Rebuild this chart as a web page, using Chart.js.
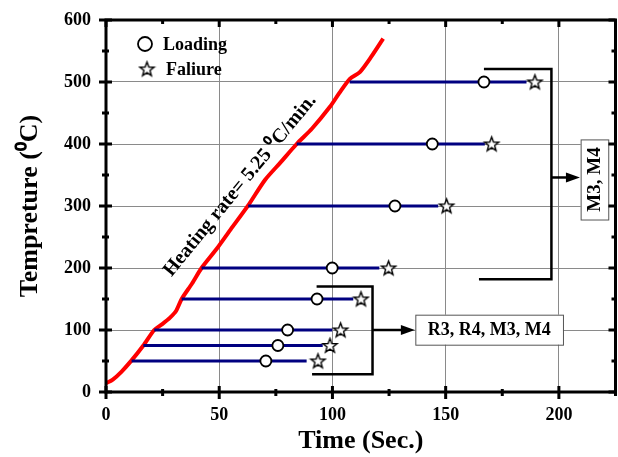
<!DOCTYPE html>
<html>
<head>
<meta charset="utf-8">
<script src="https://cdn.jsdelivr.net/npm/chart.js@4.4.1/dist/chart.umd.min.js"></script>
<style>
	html, body { margin: 0; padding: 0; background: #fff; }
</style>
</head>
<body>
<canvas id="chart" width="618" height="457"></canvas>
<script>
	// heating curve (time in sec, temperature in C)
	var heatTime = [0, 3, 6.9, 11.3, 16.5, 21.3, 25, 28.3, 31, 33.4, 38, 42.2, 48.9, 55, 62.8, 70.2, 77, 84.2, 91, 98.9, 103, 107.7, 112.1, 117, 122.4];
	var heatTemp = [14, 20, 33, 51, 75, 100, 110, 120, 131, 150, 175, 200, 231, 262, 301, 342, 370, 400, 425, 460, 482, 505, 516, 540, 570];

	// constant temperature levels
	var levels = [50, 75, 100, 150, 200, 300, 400, 500];
	var lineStart = [11.3, 16.5, 21.3, 33.4, 42.2, 62.8, 84.2, 107.6];
	var lineEnd = [88.6, 95.7, 99.9, 109.2, 120.7, 146.7, 167.3, 185.7];
	var loadingTime = [70.6, 75.9, 80.2, 93.2, 99.9, 127.6, 144.1, 166.9];
	var failureTime = [93.6, 98.9, 103.6, 112.6, 124.8, 150.4, 170.3, 189.4];

	// brackets / labels (data units)
	var lowBracket = [[93, 170], [117.7, 170], [117.7, 28.5], [91, 28.5]];
	var lowArrow = [[117.7, 100], [136.4, 100]];
	var lowBox = [136.6, 201.8, 124.7, 76.3];
	var lowLabel = "R3, R4, M3, M4";
	var highBracket = [[166.9, 521], [196.7, 521], [196.7, 181.7], [164.7, 181.7]];
	var highArrow = [[196.7, 346], [209.3, 346]];
	var highBox = [209.6, 221.8, 407.4, 278.2];
	var highLabel = "M3, M4";
	var rateText = "Heating rate= 5.25 \u2070C/min.";
	var ratePos = [59.2, 333];

	var SERIF = "'Liberation Serif', 'Times New Roman', serif";

	// hollow star marker
	function makeStar(r) {
		var size = Math.ceil(r * 2 + 4);
		var c = document.createElement("canvas");
		c.width = size; c.height = size;
		var g = c.getContext("2d");
		g.translate(size / 2, size / 2 + 0.5);
		g.beginPath();
		for (var i = 0; i < 10; i++) {
			var rr = (i % 2 == 0) ? r : r * 0.42;
			var a = -Math.PI / 2 + i * Math.PI / 5;
			if (i == 0) g.moveTo(rr * Math.cos(a), rr * Math.sin(a));
			else g.lineTo(rr * Math.cos(a), rr * Math.sin(a));
		} // end for
		g.closePath();
		g.fillStyle = "#fff";
		g.fill();
		g.lineWidth = 1.4;
		g.strokeStyle = "#000";
		g.stroke();
		return c;
	} // makeStar
	var starImg = makeStar(7.5);

	function toPts(xs, ys) {
		var arr = [];
		for (var i = 0; i < xs.length; i++) arr.push({ x: xs[i], y: ys[i] });
		return arr;
	} // toPts

	var datasets = [];
	datasets.push({
		label: "Loading",
		data: toPts(loadingTime, levels),
		showLine: false,
		pointStyle: "circle",
		pointRadius: 5.5,
		pointBorderWidth: 1.8,
		pointBorderColor: "#000",
		pointBackgroundColor: "#fff",
		order: 0
	});
	datasets.push({
		label: "Faliure",
		data: toPts(failureTime, levels),
		showLine: false,
		pointStyle: starImg,
		pointRadius: 8,
		order: 0
	});
	for (var i = 0; i < levels.length; i++) {
		datasets.push({
			label: "level" + levels[i],
			data: [{ x: lineStart[i], y: levels[i] }, { x: lineEnd[i], y: levels[i] }],
			showLine: true,
			borderColor: "#000080",
			borderWidth: 3,
			pointRadius: 0,
			order: 1
		});
	} // end for
	datasets.push({
		label: "heating",
		data: toPts(heatTime, heatTemp),
		showLine: true,
		borderColor: "#ff0000",
		borderWidth: 4,
		tension: 0.25,
		pointRadius: 0,
		order: 2
	});

	// frame, ticks and annotations
	var framePlugin = {
		id: "frame",
		afterDraw: function(chart) {
			var ctx = chart.ctx, a = chart.chartArea;
			var xs = chart.scales.x, ys = chart.scales.y;
			var px = function(v) { return xs.getPixelForValue(v); };
			var py = function(v) { return ys.getPixelForValue(v); };
			ctx.save();
			ctx.strokeStyle = "#000";
			ctx.fillStyle = "#000";

			// brackets
			ctx.lineWidth = 2.5;
			[lowBracket, highBracket].forEach(function(b) {
				ctx.beginPath();
				ctx.moveTo(px(b[0][0]), py(b[0][1]));
				for (var k = 1; k < b.length; k++) ctx.lineTo(px(b[k][0]), py(b[k][1]));
				ctx.stroke();
			});
			// arrows
			[lowArrow, highArrow].forEach(function(ar) {
				var x0 = px(ar[0][0]), x1 = px(ar[1][0]), y = py(ar[0][1]);
				ctx.lineWidth = 2.5;
				ctx.beginPath();
				ctx.moveTo(x0, y); ctx.lineTo(x1 - 8, y);
				ctx.stroke();
				ctx.beginPath();
				ctx.moveTo(x1, y); ctx.lineTo(x1 - 14, y - 5); ctx.lineTo(x1 - 14, y + 5);
				ctx.closePath();
				ctx.fill();
			});
			// label boxes
			ctx.lineWidth = 1;
			ctx.strokeStyle = "#555";
			var bx = px(lowBox[0]), bw = px(lowBox[1]) - bx, by = py(lowBox[2]), bh = py(lowBox[3]) - by;
			ctx.fillStyle = "#fff";
			ctx.fillRect(bx, by, bw, bh);
			ctx.strokeRect(bx + 0.5, by + 0.5, bw, bh);
			ctx.fillStyle = "#000";
			ctx.font = "bold 18px " + SERIF;
			ctx.textAlign = "center";
			ctx.textBaseline = "middle";
			ctx.fillText(lowLabel, bx + bw / 2, by + bh / 2 + 1);

			bx = px(highBox[0]); bw = px(highBox[1]) - bx; by = py(highBox[2]); bh = py(highBox[3]) - by;
			ctx.fillStyle = "#fff";
			ctx.fillRect(bx, by, bw, bh);
			ctx.strokeRect(bx + 0.5, by + 0.5, bw, bh);
			ctx.fillStyle = "#000";
			ctx.font = "bold 19px " + SERIF;
			ctx.save();
			ctx.translate(bx + bw / 2 + 1, by + bh / 2);
			ctx.rotate(-Math.PI / 2);
			ctx.fillText(highLabel, 0, 0);
			ctx.restore();

			// heating rate text
			ctx.save();
			ctx.translate(px(ratePos[0]), py(ratePos[1]));
			ctx.rotate(-50.6 * Math.PI / 180);
			ctx.font = "bold 20px " + SERIF;
			ctx.fillText(rateText, 0, 0);
			ctx.restore();

			// legend
			ctx.lineWidth = 1.8;
			ctx.strokeStyle = "#000";
			ctx.beginPath();
			ctx.arc(145, 44, 7, 0, Math.PI * 2);
			ctx.stroke();
			ctx.drawImage(starImg, 147 - starImg.width / 2, 69 - starImg.height / 2);
			ctx.font = "bold 18px " + SERIF;
			ctx.textAlign = "left";
			ctx.fillText("Loading", 163, 45);
			ctx.fillText("Faliure", 166, 70);

			// frame
			ctx.strokeStyle = "#000";
			ctx.lineWidth = 3;
			ctx.strokeRect(a.left, a.top, a.right - a.left, a.bottom - a.top);
			// tick marks
			ctx.lineWidth = 3;
			ctx.beginPath();
			for (var v = 0; v <= 225; v += 25) {
				var x = px(v), big = (v % 50 == 0);
				var o = big ? 7 : 4, n = big ? 6 : 3;
				ctx.moveTo(x, a.bottom - n); ctx.lineTo(x, a.bottom + o);
				ctx.moveTo(x, a.top); ctx.lineTo(x, a.top + o);
			} // end for
			for (var t = 0; t <= 600; t += 50) {
				var y = py(t), maj = (t % 100 == 0);
				var o2 = maj ? 7 : 4, n2 = maj ? 6 : 3;
				ctx.moveTo(a.left - o2, y); ctx.lineTo(a.left + n2, y);
				ctx.moveTo(a.right, y); ctx.lineTo(a.right - o2, y);
			} // end for
			ctx.stroke();
			ctx.restore();
		} // afterDraw
	}; // framePlugin

	var chart = new Chart(document.getElementById("chart"), {
		type: "scatter",
		data: { datasets: datasets },
		options: {
			responsive: false,
			animation: false,
			layout: {
				autoPadding: false,
				padding: { top: 20, right: 2.5, left: 0, bottom: 0 }
			},
			plugins: {
				legend: { display: false },
				tooltip: { enabled: false }
			},
			scales: {
				x: {
					type: "linear",
					min: 0,
					max: 225,
					afterFit: function(s) {
						s.height = 65;
						s.paddingLeft = 0;
						s.paddingRight = 0;
					},
					ticks: {
						stepSize: 25,
						padding: 0,
						color: "#000",
						font: { family: SERIF, size: 18, weight: "bold" },
						maxRotation: 0,
						autoSkip: false,
						callback: function(v) { return (v % 50 == 0) ? v : ""; }
					},
					grid: {
						drawTicks: true,
						tickLength: 13,
						tickColor: "rgba(0,0,0,0)",
						lineWidth: 1,
						color: function(c) {
							var v = c.tick ? c.tick.value : -1;
							return (v % 50 == 0 && v > 0 && v < 225) ? "#8a8a8a" : "rgba(0,0,0,0)";
						}
					},
					border: { display: false },
					title: {
						display: true,
						text: "Time (Sec.)",
						color: "#000",
						font: { family: SERIF, size: 26, weight: "bold" },
						padding: { top: 0, bottom: 0 }
					}
				},
				y: {
					type: "linear",
					min: 0,
					max: 600,
					afterFit: function(s) {
						s.width = 106;
						s.paddingTop = 0;
						s.paddingBottom = 0;
					},
					ticks: {
						stepSize: 50,
						padding: 0,
						color: "#000",
						font: { family: SERIF, size: 18, weight: "bold" },
						autoSkip: false,
						callback: function(v) { return (v % 100 == 0) ? v : ""; }
					},
					grid: {
						drawTicks: true,
						tickLength: 15,
						tickColor: "rgba(0,0,0,0)",
						lineWidth: 1,
						color: function(c) {
							var v = c.tick ? c.tick.value : -1;
							return (v % 100 == 0 && v > 0 && v < 600) ? "#8a8a8a" : "rgba(0,0,0,0)";
						}
					},
					border: { display: false },
					title: {
						display: true,
						text: "Tempreture (\u2070C)",
						color: "#000",
						font: { family: SERIF, size: 26, weight: "bold" },
						padding: { top: 15, bottom: 0 }
					}
				}
			}
		},
		plugins: [framePlugin]
	}); // end chart
</script>
</body>
</html>
